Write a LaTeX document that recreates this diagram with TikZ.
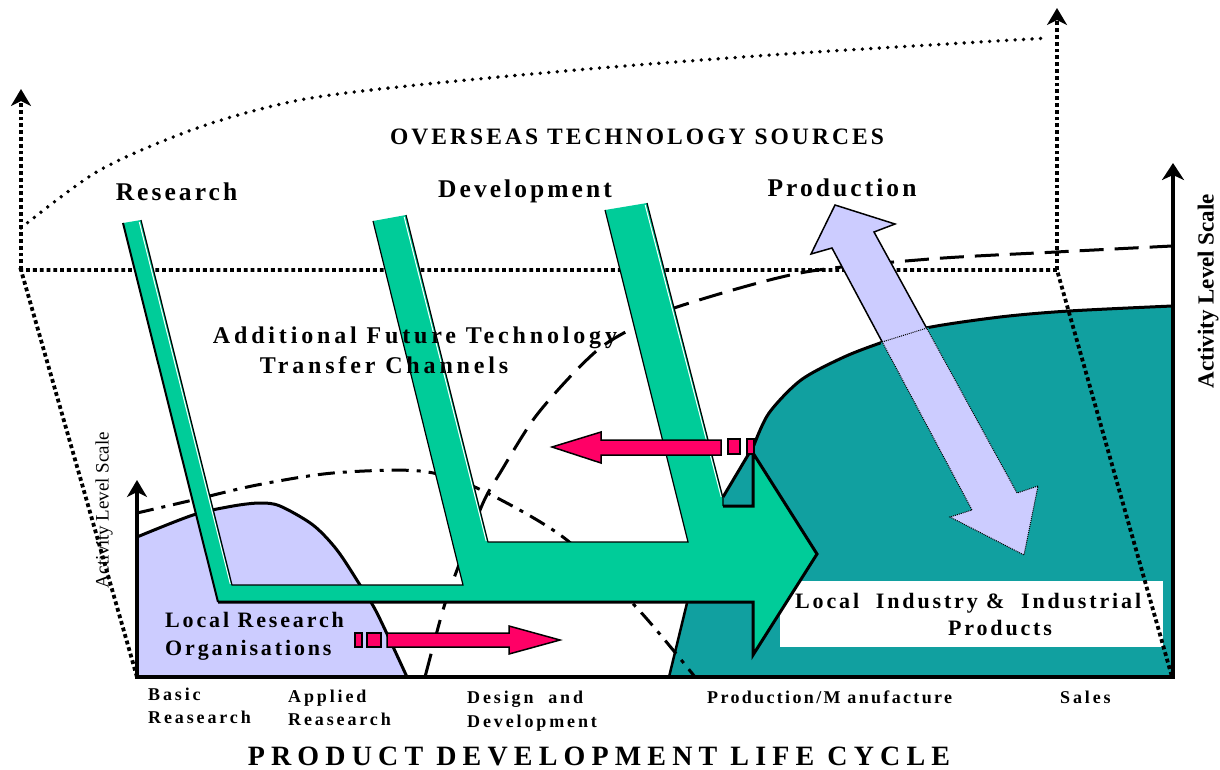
\documentclass[tikz,border=0pt]{standalone}
\usepackage{fontspec}
\setmainfont{Liberation Serif}
\newfontfamily\lsa[LetterSpace=16]{Liberation Serif}
\newfontfamily\lsr[LetterSpace=12]{Liberation Serif}
\newfontfamily\lsb[LetterSpace=13]{Liberation Serif}
\newfontfamily\lsc[LetterSpace=22]{Liberation Serif}
\newfontfamily\lsd[LetterSpace=13]{Liberation Serif}
\usetikzlibrary{arrows.meta}
\definecolor{grn}{RGB}{0,204,153}
\definecolor{tealc}{RGB}{17,160,160}
\definecolor{lav}{RGB}{204,204,255}
\definecolor{pnk}{RGB}{255,0,102}
\tikzset{
  frame/.style={line width=3.8, dash pattern=on 3.8pt off 3pt},
  dotcurve/.style={line width=3.8, dash pattern=on 0pt off 8.5pt, line cap=round},
  longdash/.style={line width=3, dash pattern=on 24pt off 11pt},
  dashdot/.style={line width=3, dash pattern=on 17pt off 8pt on 4pt off 8pt},
  axisline/.style={line width=3.5},
  pinkbox/.style={fill=pnk, draw=black, line width=1.5},
  tipA/.style={-{Stealth[length=17pt,width=20pt,inset=5pt]}},
  lbl/.style={inner sep=0pt, anchor=base west},
  lblc/.style={inner sep=0pt, anchor=base},
}
\begin{document}
\begin{tikzpicture}[x=1pt,y=-1pt]
\useasboundingbox (0,0) rectangle (1220,769);

% ---- teal region: local industry
\fill[tealc] (669,677) -- (687,603) -- (723,497) -- plot[smooth] coordinates {(754,445) (769,413) (801,380) (844,357) (883,342) (926,328) (1000,317) (1069,311) (1172,306)} -- (1172,677) -- cycle;
\draw[line width=3] (723,497) -- plot[smooth] coordinates {(754,445) (769,413) (801,380) (844,357) (883,342) (926,328) (1000,317) (1069,311) (1172,306)};
\draw[line width=2.5] (687,603) -- (669,677);

% ---- white box
\fill[white] (780,581) rectangle (1163,647);

% ---- lavender region: local research
\fill[lav] (137,677) -- plot[smooth] coordinates {(137,537) (193,515) (233,506) (260,503) (280,506) (313,525) (337,550) (360,585) (377,613) (407,677)} -- cycle;
\draw[line width=3] plot[smooth] coordinates {(137,537) (193,515) (233,506) (260,503) (280,506) (313,525) (337,550) (360,585) (377,613) (407,677)};

% ---- overseas frame (dotted)
\coordinate (fl) at (21,270);
\coordinate (fr) at (1057,270);
\coordinate (bl) at (137,677);
\coordinate (br) at (1172,677);
\draw[frame] (bl) -- (fl) -- (fr) -- (br);
\draw[frame, tipA] (fl) -- (21,89);
\draw[frame, tipA] (fr) -- (1057,8);
\draw[dotcurve] plot[smooth] coordinates {(21,228) (100,170) (200,127) (300,100) (417,85) (600,68) (800,53) (1048,38)};

% ---- activity curves
\draw[dashdot] plot[smooth] coordinates {(137,513) (193,500) (257,485) (333,473) (420,471) (477,488) (563,537) (637,608) (695,677)};
\draw[longdash] plot[smooth] coordinates {(425,677) (443,610) (457,570) (483,503) (500,473) (533,420) (567,380) (600,348) (633,328) (677,307) (800,273) (930,259) (1056,252) (1172,246)};

% ---- green transfer channels arrow
\fill[grn] (123,223) -- (141,220) -- (232,585) -- (463,585) -- (373,221) -- (406,215) -- (488,542) -- (688,542) -- (605,210) -- (647,203) -- (723,498) -- (723,506) -- (753,506) -- (753,453) -- (817,554) -- (753,655) -- (753,602) -- (218,602) -- cycle;
\draw[white, line width=1] (139.3,222) -- (230.3,584);
\draw[white, line width=1] (404.2,217) -- (486.2,541);
\draw[white, line width=1] (645.2,205) -- (721.2,497);
\draw[line width=1.2] (141,220) -- (232,585) -- (463,585) -- (373,221);
\draw[line width=1.2] (406,215) -- (488,542) -- (688,542) -- (605,210);
\draw[line width=1.2] (647,203) -- (723,498) -- (723,506);
\draw[line width=3] (723,506) -- (753,506) -- (753,453) -- (817,554) -- (753,655) -- (753,602) -- (218,602);
\draw[line width=2] (218,602) -- (123,223);

% ---- pink arrows
\draw[pinkbox] (552,447) -- (601,432) -- (601,440) -- (721,440) -- (721,455) -- (601,455) -- (601,463) -- cycle;
\draw[pinkbox] (728,439) rectangle (740,454);
\draw[pinkbox] (747,439) rectangle (754,454);
\draw[pinkbox] (355,633) rectangle (362,647);
\draw[pinkbox] (367,633) rectangle (381,647);
\draw[pinkbox] (387,633) -- (509,633) -- (509,626) -- (560,640) -- (509,654) -- (509,647) -- (387,647) -- cycle;

% ---- lavender double arrow (production)
\def\lavarrow{(835,205) -- (895,224) -- (874,232) -- (1017,493) -- (1038,486) -- (1024,555) -- (950,517) -- (972,510) -- (832,248) -- (811,254) -- cycle}
\fill[lav] \lavarrow;
\draw[line width=1.5] \lavarrow;
\begin{scope}
  \clip (669,677) -- (687,603) -- (723,497) -- plot[smooth] coordinates {(754,445) (769,413) (801,380) (844,357) (883,342) (926,328) (1000,317) (1069,311) (1172,306)} -- (1172,677) -- cycle;
  \draw[tealc, line width=3.5] \lavarrow;
  \fill[lav] \lavarrow;
  \draw[densely dotted, line width=1] \lavarrow;
\end{scope}
\draw[densely dotted, line width=1] (882,342) -- (927,328);

% ---- axes
\draw[axisline, {Stealth[length=17pt,width=20pt,inset=5pt]}-{Stealth[length=17pt,width=22pt,inset=5pt]}] (137,480) -- (137,677) -- (1173,677) -- (1173,163);

% ---- texts
\node[lblc] (overseas) at (637,144) {\lsb\bfseries\fontsize{23.5}{27}\selectfont OVERSEAS TECHNOLOGY SOURCES};
\node[lblc] (research) at (176.5,200) {\lsr\bfseries\fontsize{25.5}{29}\selectfont Research};
\node[lblc] (development) at (525,197) {\lsr\bfseries\fontsize{25.5}{29}\selectfont Development};
\node[lblc] (production) at (842,196) {\lsr\bfseries\fontsize{25.5}{29}\selectfont Production};
\node[lblc] (addl1) at (415,343) {\lsa\bfseries\fontsize{24}{28}\selectfont Additional Future Technology};
\node[lblc] (addl2) at (384,373) {\lsa\bfseries\fontsize{24}{28}\selectfont Transfer Channels};
\node[lbl] (lro1) at (165,627) {\lsd\bfseries\fontsize{22}{26}\selectfont Local Research};
\node[lbl] (lro2) at (165,655) {\lsd\bfseries\fontsize{22}{26}\selectfont Organisations};
\node[lbl] (lip1) at (795,608) {\lsd\bfseries\fontsize{22}{26}\selectfont Local~ Industry \&~ Industrial};
\node[lblc] (lip2) at (1000,635) {\lsd\bfseries\fontsize{22}{26}\selectfont Products};
\node[lbl] (basic1) at (148,700) {\lsa\bfseries\fontsize{18}{22}\selectfont Basic};
\node[lbl] (basic2) at (148,723) {\lsa\bfseries\fontsize{18}{22}\selectfont Reasearch};
\node[lbl] (appl1) at (288,702) {\lsa\bfseries\fontsize{18}{22}\selectfont Applied};
\node[lbl] (appl2) at (288,725) {\lsa\bfseries\fontsize{18}{22}\selectfont Reasearch};
\node[lbl] (des1) at (467,703) {\lsa\bfseries\fontsize{18}{22}\selectfont Design~ and};
\node[lbl] (des2) at (467,727) {\lsa\bfseries\fontsize{18}{22}\selectfont Development};
\node[lbl] (prodman) at (707,703) {\lsd\bfseries\fontsize{18}{22}\selectfont Production/M anufacture};
\node[lbl] (sales) at (1060,703) {\lsa\bfseries\fontsize{18}{22}\selectfont Sales};
\node[lblc] (pdlc) at (599,765) {\lsc\bfseries\fontsize{28}{32}\selectfont PRODUCT DEVELOPMENT LIFE CYCLE};
\node[inner sep=0pt, rotate=90] (alsl) at (104,510) {\fontsize{19}{22}\selectfont Activity Level Scale};
\node[inner sep=0pt, rotate=90] (alsr) at (1208,291) {\bfseries\fontsize{23}{26}\selectfont Activity Level Scale};
\end{tikzpicture}
\end{document}
